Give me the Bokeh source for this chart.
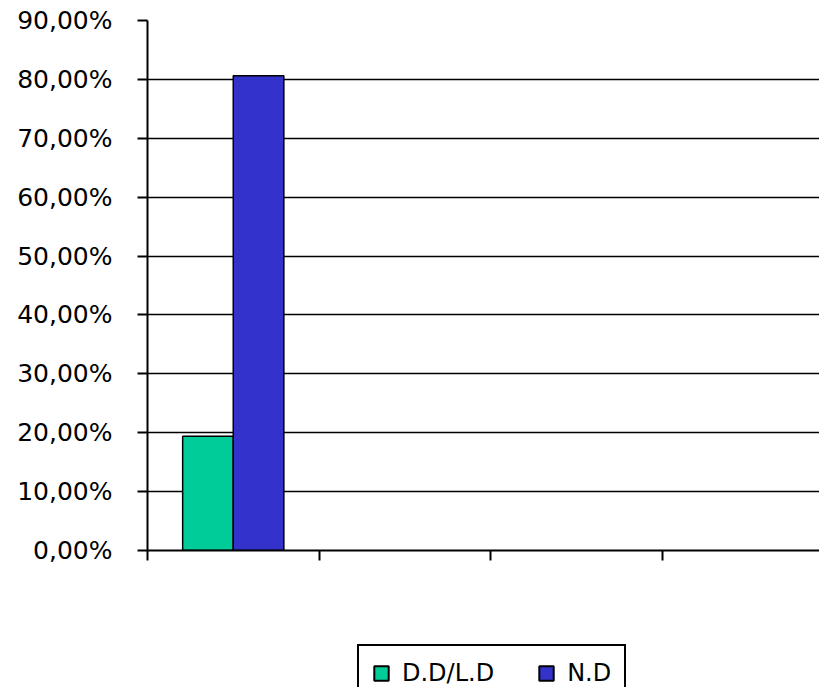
from bokeh.plotting import figure
from bokeh.layouts import column
from bokeh.models import FixedTicker, Range1d, Legend, LegendItem, ColumnDataSource
from bokeh.embed import file_html
from bokeh.resources import INLINE

series_names = ["D.D/L.D", "N.D"]
series_values = [19.4, 80.6]
series_colors = ["#00CC99", "#3333CC"]
y_ticks = [0, 10, 20, 30, 40, 50, 60, 70, 80, 90]
y_tick_labels = ["0,00%", "10,00%", "20,00%", "30,00%", "40,00%", "50,00%",
                 "60,00%", "70,00%", "80,00%", "90,00%"]
x_ticks = [0, 1, 2, 3, 4]

W, H = 819, 687
H1 = 600
left, top, bottom_y = 147, 20, 550
cat_px = 171.5

p = figure(width=W, height=H1, output_backend="svg", toolbar_location=None,
           x_range=Range1d(0, (W - left) / cat_px), y_range=Range1d(0, 90),
           frame_width=W - left, frame_height=bottom_y - top,
           min_border_left=left, min_border_right=0, min_border_top=top,
           min_border_bottom=H1 - bottom_y)
p.outline_line_color = None
p.background_fill_color = "white"
p.border_fill_color = "white"

bar_w = 0.295
offsets = [0.5 - bar_w / 2, 0.5 + bar_w / 2]
for name, val, col, off in zip(series_names, series_values, series_colors, offsets):
    src = ColumnDataSource(dict(x=[off], top=[val]))
    p.vbar(x="x", top="top", width=bar_w, bottom=0, source=src,
           fill_color=col, line_color="black", line_width=1.5)

p.xgrid.visible = False
p.ygrid.ticker = FixedTicker(ticks=y_ticks)
p.ygrid.grid_line_color = "black"
p.ygrid.grid_line_width = 1.5
p.ygrid.grid_line_alpha = 1.0

p.yaxis.ticker = FixedTicker(ticks=y_ticks)
p.yaxis.major_label_overrides = {t: l for t, l in zip(y_ticks, y_tick_labels)}
p.yaxis.major_label_text_font = "DejaVu Sans"
p.yaxis.major_label_text_font_size = "25px"
p.yaxis.major_label_text_color = "black"
p.yaxis.major_tick_in = 0
p.yaxis.major_tick_out = 10
p.yaxis.major_tick_line_width = 2
p.yaxis.major_tick_line_color = "black"
p.yaxis.minor_tick_line_color = None
p.yaxis.axis_line_color = "black"
p.yaxis.axis_line_width = 2
p.yaxis.major_label_standoff = 25

p.xaxis.ticker = FixedTicker(ticks=x_ticks)
p.xaxis.major_label_text_font_size = "0px"
p.xaxis.major_label_text_color = None
p.xaxis.major_tick_in = 0
p.xaxis.major_tick_out = 10
p.xaxis.major_tick_line_width = 2
p.xaxis.major_tick_line_color = "black"
p.xaxis.minor_tick_line_color = None
p.xaxis.axis_line_color = "black"
p.xaxis.axis_line_width = 2

# legend panel below the chart; its renderers hold one NaN row (nothing drawn), only styles
lf = figure(width=W, height=H - H1, output_backend="svg", toolbar_location=None,
            x_axis_type=None, y_axis_type=None,
            x_range=Range1d(0, (W - left) / cat_px), y_range=Range1d(0, 1),
            min_border_left=left, min_border_right=0, min_border_top=0, min_border_bottom=0)
lf.outline_line_color = None
lf.xgrid.visible = False
lf.ygrid.visible = False
leg_renderers = []
for name, col in zip(series_names, series_colors):
    src = ColumnDataSource(dict(x=[float("nan")], top=[float("nan")]))
    r = lf.vbar(x="x", top="top", width=bar_w, bottom=0, source=src,
                fill_color=col, line_color="black", line_width=2)
    leg_renderers.append(r)

legend = Legend(items=[LegendItem(label=n, renderers=[r]) for n, r in zip(series_names, leg_renderers)],
                orientation="horizontal", location=(357 - left, -15))
legend.label_text_font = "DejaVu Sans"
legend.label_text_font_size = "24px"
legend.label_text_color = "black"
legend.glyph_width = 18
legend.glyph_height = 18
legend.border_line_color = "black"
legend.border_line_alpha = 1.0
legend.border_line_width = 2
legend.background_fill_alpha = 1
legend.padding = 13
legend.spacing = 43
legend.label_standoff = 12
legend.margin = 0
lf.add_layout(legend, "center")

layout = column(p, lf, spacing=0)
open("out.html", "w").write(file_html(layout, INLINE))
